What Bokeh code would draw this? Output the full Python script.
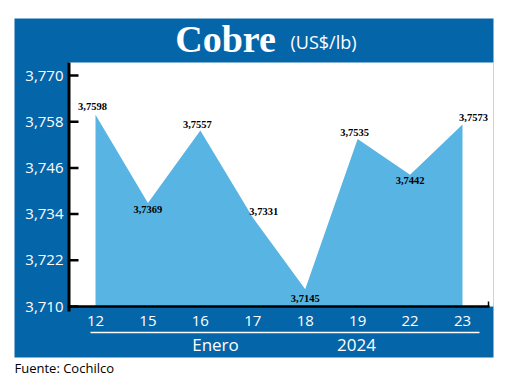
from bokeh.plotting import figure
from bokeh.models import Range1d, ColumnDataSource
from bokeh.core.properties import value
from bokeh.embed import file_html
from bokeh.resources import INLINE

# ---- data ----
dias = ["12", "15", "16", "17", "18", "19", "22", "23"]
precios = [3.7598, 3.7369, 3.7557, 3.7331, 3.7145, 3.7535, 3.7442, 3.7573]
etiquetas = ["3,7598", "3,7369", "3,7557", "3,7331", "3,7145", "3,7535", "3,7442", "3,7573"]
y_ticks = [3.710, 3.722, 3.734, 3.746, 3.758, 3.770]
y_tick_labels = ["3,710", "3,722", "3,734", "3,746", "3,758", "3,770"]
titulo = "Cobre"
unidad = "(US$/lb)"
mes = "Enero"
anio = "2024"
fuente = "Fuente: Cochilco"

# ---- layout / style ----
W, H = 515, 376
BLUE = "#0565A9"
AREA = "#58B5E3"
BASE = y_ticks[0]
label_dx = [-3, 0, -3, 11, 0, -3, 0, 11]
label_dy = [-8, 7, -6, -6, 9, -7, 6, -7]

# scale: index 0 -> px 95, index 7 -> px 462 ; 3.770 -> px 75, 3.710 -> px 306
XPX = (462 - 95) / 7.0
YPX = (306 - 75) / (y_ticks[-1] - y_ticks[0])
x0 = -95 / XPX
x1 = x0 + W / XPX
y1 = y_ticks[-1] + 75 / YPX
y0 = y1 - H / YPX


def cx(px):
    return x0 + px / XPX


def cy(py):
    return y1 - py / YPX


idx = list(range(len(dias)))

p = figure(width=W, height=H, output_backend="svg", toolbar_location=None,
           x_range=Range1d(x0, x1), y_range=Range1d(y0, y1),
           min_border=0, x_axis_location=None, y_axis_location=None)
p.background_fill_color = "white"
p.border_fill_color = "white"
p.outline_line_color = None
p.grid.visible = False

# panel + white plot area
p.quad(left=[cx(14)], right=[cx(493)], top=[cy(18)], bottom=[cy(357)],
       fill_color=BLUE, line_color=None)
p.quad(left=[cx(68)], right=[cx(493)], top=[cy(62)], bottom=[BASE],
       fill_color="white", line_color=None)

# area
src = ColumnDataSource(dict(x=idx, y=precios, t=etiquetas, dx=label_dx, dy=label_dy))
p.varea(x="x", y1=BASE, y2="y", source=src, fill_color=AREA, fill_alpha=1.0)

# axes lines and ticks
p.segment(x0=[cx(68.5)], y0=[cy(62)], x1=[cx(68.5)], y1=[cy(311)],
          line_color="black", line_width=3)
p.segment(x0=[cx(67)], y0=[BASE], x1=[cx(489)], y1=[BASE],
          line_color="black", line_width=2.5)
p.segment(x0=[cx(488)], y0=[BASE], x1=[cx(488)], y1=[cy(301)],
          line_color="black", line_width=1.5)
p.segment(x0=[cx(68)] * len(y_ticks), y0=y_ticks, x1=[cx(78)] * len(y_ticks), y1=y_ticks,
          line_color="black", line_width=2.5)

# tick labels
p.text(x=[cx(63)] * len(y_ticks), y=y_ticks, text=y_tick_labels,
       text_font=value("Open Sans"), text_font_size="15px", text_color="white",
       text_align="right", text_baseline="middle")
p.text(x=idx, y=[cy(320)] * len(idx), text=dias,
       text_font=value("Open Sans"), text_font_size="15px", text_color="white",
       text_align="center", text_baseline="middle")

# white rule under days
p.segment(x0=[cx(90)], y0=[cy(332)], x1=[cx(479)], y1=[cy(332)],
          line_color="white", line_width=1.5)

# value labels
p.text(x="x", y="y", text="t", x_offset="dx", y_offset="dy", source=src,
       text_font=value("Liberation Sans Narrow"), text_font_style="bold",
       text_font_size="10.5px", text_color="black",
       text_align="center", text_baseline="middle")

# titles and footer
p.text(x=[cx(225)], y=[cy(38)], text=[titulo], text_font=value("Liberation Serif"),
       text_font_style="bold", text_font_size="38px", text_color="white",
       text_align="center", text_baseline="middle")
p.text(x=[cx(290)], y=[cy(41)], text=[unidad], text_font=value("Open Sans"),
       text_font_size="18px", text_color="white",
       text_align="left", text_baseline="middle")
p.text(x=[cx(215), cx(356)], y=[cy(344)] * 2, text=[mes, anio],
       text_font=value("Open Sans"), text_font_size="17px", text_color="white",
       text_align="center", text_baseline="middle")
p.text(x=[cx(14)], y=[cy(367)], text=[fuente], text_font=value("Open Sans"),
       text_font_size="13px", text_color="black",
       text_align="left", text_baseline="middle")

open("out.html", "w").write(file_html(p, INLINE))
